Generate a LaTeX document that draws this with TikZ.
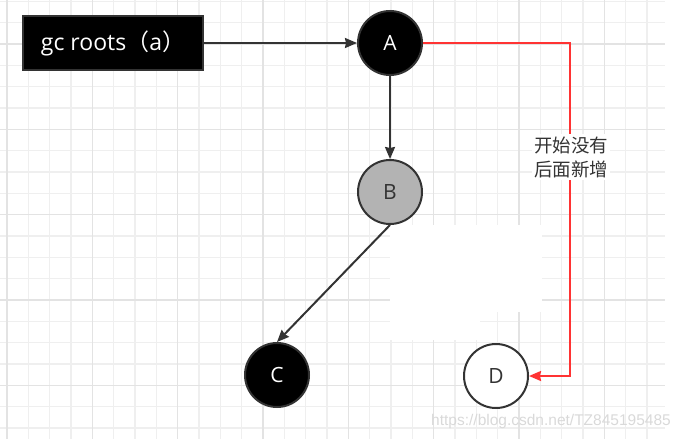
\documentclass[tikz,border=0pt]{standalone}
\usepackage{fontspec}
\setmainfont{Open Sans}
\newfontfamily\cjk{Noto Sans CJK SC}
\newfontfamily\markfont{Liberation Sans}
\usepackage{tikz}
\usetikzlibrary{arrows.meta,calc,positioning}
\definecolor{gridminor}{HTML}{EFEFEF}
\definecolor{gridmajor}{HTML}{E3E3E3}
\definecolor{edgegray}{HTML}{333333}
\definecolor{greyB}{HTML}{B3B3B3}
\definecolor{newred}{HTML}{FF3333}

\begin{document}
\begin{tikzpicture}[x=1pt, y=-1pt,
  objnode/.style={circle, draw=edgegray, line width=2pt, minimum size=64pt, inner sep=0pt,
    font=\fontsize{21}{21}\selectfont},
  rootbox/.style={rectangle, fill=black, draw=edgegray, line width=1.4pt, minimum width=180pt,
    minimum height=54pt, text=white, font=\fontsize{23}{23}\selectfont},
  link/.style={draw=edgegray, line width=2pt, ->, >={Stealth[length=12pt,width=10pt,inset=1pt]}},
  newref/.style={draw=newred, line width=2pt, ->, >={Stealth[length=12pt,width=10pt,inset=1pt]}},
  note/.style={fill=white, text=edgegray, align=center, inner sep=2pt,
    font=\cjk\fontsize{18.5}{24}\selectfont},
  wm/.style={text=black!15, font=\markfont\fontsize{15.5}{15.5}\selectfont}]
\useasboundingbox (0,0) rectangle (684,439);
%
% grid
\foreach \i in {0,...,30} \draw[gridminor, line width=1.2pt] ({7+21.33*\i},0) -- ({7+21.33*\i},439);
\foreach \j in {0,...,20} \draw[gridminor, line width=1.2pt] (0,{1.4+21.33*\j}) -- (665,{1.4+21.33*\j});
\foreach \i in {0,...,7} \draw[gridmajor, line width=1.2pt] ({7+85.33*\i},0) -- ++(0,439);
\foreach \j in {0,...,4} \draw[gridmajor, line width=1.2pt] (0,{44+85.33*\j}) -- ++(665,0);
% erased patches
\fill[white] (390,225) rectangle (542,255);
\fill[white] (390,255) rectangle (480,340);
\fill[white] (480,255) rectangle (542,312);
%
% gc roots
\node[rootbox] (roots) at (113,43) {gc roots{\cjk（}a{\cjk）}};
% objects
\node[objnode, fill=black, text=white] (A) at (390,43) {A};
\node[objnode, fill=greyB, text=edgegray] (B) at (390,192) {B};
\node[objnode, fill=black, text=white] (C) at (277,375) {C};
\node[objnode, fill=white, text=edgegray] (D) at (496,376) {D};
%
% references
\draw[link] (roots) -- (A);
\draw[link] (A) -- (B);
\draw[link] (B.south) -- (C.north);
% new reference A -> D
\coordinate (bend) at (570,376);
\draw[newref] (A.east) -| (bend) -- (D.east);
\node[note] (note) at (571,157) {开始没有\\后面新增};
%
\node[wm] (mark) at (551,421) {https://blog.csdn.net/TZ845195485};
\end{tikzpicture}
\end{document}
